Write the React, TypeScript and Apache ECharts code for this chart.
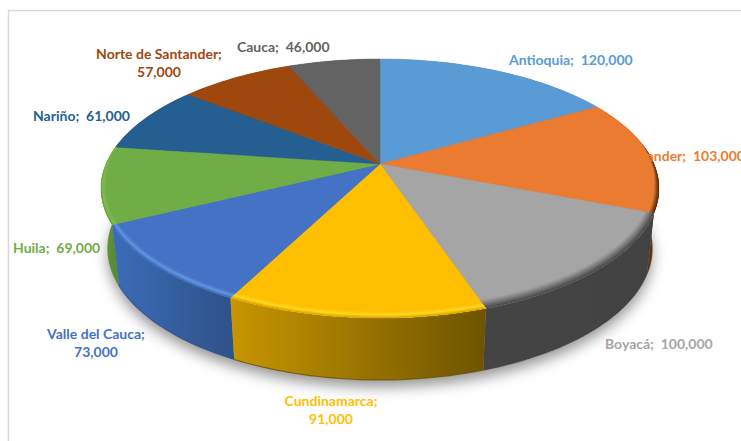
import React, { useEffect, useRef } from "react";
import * as echarts from "echarts";

const DEPARTMENTS = ["Antioquia", "Santander", "Boyacá", "Cundinamarca", "Valle del Cauca", "Huila", "Nariño", "Norte de Santander", "Cauca"];
const VALUES = [120000, 103000, 100000, 91000, 73000, 69000, 61000, 57000, 46000];

const FACE_COLORS = ["#5b9bd5", "#ea7b30", "#a5a5a5", "#fdbf00", "#4472c4", "#70ad47", "#255e91", "#9e480e", "#636363"];
const LABEL_COLORS = ["#5b9bd5", "#ed7d31", "#a5a5a5", "#ffc000", "#4472c4", "#70ad47", "#255e91", "#9e480e", "#636363"];
const WALL_LEFT = ["#3e6f9b", "#8a4a1c", "#444444", "#c79600", "#3b6cb8", "#629c3c", "#1c4a70", "#6e3209", "#444444"];
const WALL_RIGHT = ["#3e6f9b", "#5c2e10", "#424242", "#6e5400", "#2f5289", "#578a34", "#1c4a70", "#6e3209", "#444444"];

// Rim shading per slice, widest band first (fraction of the radius, colour).
const RIMS: [number, string][][] = [
  [],
  [[0.03, "#c96c2b"], [0.024, "#ae5d25"], [0.018, "#8f4d1f"], [0.012, "#70401a"], [0.006, "#553014"]],
  [[0.05, "#9e9e9e"], [0.043, "#929292"], [0.036, "#858585"], [0.029, "#787878"], [0.022, "#6a6a6a"], [0.015, "#5c5c5c"], [0.008, "#4f4f4f"]],
  [[0.034, "#ffc60a"], [0.027, "#ffd01c"], [0.02, "#ffd526"], [0.013, "#f6c008"], [0.007, "#e6b000"], [0.003, "#d6a200"]],
  [[0.034, "#4a7aca"], [0.027, "#5587d6"], [0.02, "#5f95e0"], [0.013, "#5288d6"], [0.007, "#4878c4"], [0.003, "#4069b4"]],
  [[0.03, "#75b24a"], [0.022, "#7ab84e"], [0.014, "#7dbc50"], [0.007, "#6aa540"]],
  [],
  [],
  [],
];

// Angle windows (degrees) over which a rim grows in; null means full width.
const RIM_FADE: ([number, number] | null)[] = [
  null,
  [80, 100],
  null,
  null,
  null,
  [282, 262],
  null,
  null,
  null,
];

const LABEL_ANCHORS: { x: number; y: number; align: string; wrap: boolean }[] = [
  { x: 509, y: 59, align: "left", wrap: false },
  { x: 619, y: 155, align: "left", wrap: false },
  { x: 605, y: 343, align: "left", wrap: false },
  { x: 331, y: 409, align: "center", wrap: true },
  { x: 96, y: 342, align: "center", wrap: true },
  { x: 13, y: 247, align: "left", wrap: false },
  { x: 33, y: 115, align: "left", wrap: false },
  { x: 159, y: 62, align: "center", wrap: true },
  { x: 237, y: 46, align: "left", wrap: false },
];

// Perspective projection of the pie's unit disc onto the page.
const APEX = { x: 380, y: 164 };
const TILT = 0.189;
const SPREAD_X = 274;
const SPREAD_Y = 124.9;
const TOP_CENTER_Y = 188;
const BASE_CENTER_Y = 248;
const BASE_SCALE_X = 0.975;
const BASE_SCALE_Y = 1.015;

type Pt = [number, number];

function project(deg: number, r = 1): Pt {
  const t = (deg * Math.PI) / 180;
  const X = r * Math.sin(t);
  const Y = r * Math.cos(t);
  const w = 1 + TILT * Y;
  return [APEX.x + (SPREAD_X * X) / w, APEX.y - (SPREAD_Y * Y) / w];
}

function projectBase(deg: number): Pt {
  const [x, y] = project(deg);
  return [APEX.x + (x - APEX.x) * BASE_SCALE_X, BASE_CENTER_Y + (y - TOP_CENTER_Y) * BASE_SCALE_Y];
}

const TOTAL = VALUES.reduce((a, b) => a + b, 0);
const START_ANGLES: number[] = [];
VALUES.reduce((acc, v, i) => {
  START_ANGLES[i] = (acc / TOTAL) * 360;
  return acc + v;
}, 0);

function sweep(i: number): [number, number] {
  return [START_ANGLES[i], START_ANGLES[i] + (VALUES[i] / TOTAL) * 360];
}

function arcAngles(a0: number, a1: number): number[] {
  const n = Math.max(2, Math.ceil((a1 - a0) / 1.5));
  const out: number[] = [];
  for (let k = 0; k <= n; k++) out.push(a0 + ((a1 - a0) * k) / n);
  return out;
}

// Back slices first, so nearer walls paint over farther ones.
const WALL_ORDER = VALUES.map((_, i) => i).sort((p, q) => {
  const mid = (i: number) => {
    const [a, b] = sweep(i);
    return Math.cos((((a + b) / 2) * Math.PI) / 180);
  };
  return mid(q) - mid(p);
});

// Rim width along the arc: evens out the wider horizontal spread of the disc.
function rimFactor(i: number, deg: number): number {
  const s = Math.sin((deg * Math.PI) / 180);
  const even = 1 - 0.45 * s * s;
  const fade = RIM_FADE[i];
  if (!fade) return even;
  const f = (deg - fade[0]) / (fade[1] - fade[0]);
  return even * Math.min(1, Math.max(0, f));
}

function renderShadow() {
  const pts = arcAngles(0, 360).map(projectBase);
  return {
    type: "polygon",
    silent: true,
    shape: { points: pts },
    style: { fill: "#8f8f8f", shadowBlur: 14, shadowColor: "rgba(0,0,0,0.42)", shadowOffsetX: 0, shadowOffsetY: 7 },
  };
}

function renderWall(_: any, api: any) {
  const i = api.value(0);
  const [a0, a1] = sweep(i);
  const angles = arcAngles(a0, a1);
  const top = angles.map((d) => project(d));
  const base = angles.map(projectBase);
  const xs = top.map((p) => p[0]);
  return {
    type: "group",
    children: [
      {
        type: "polygon",
        silent: true,
        shape: { points: [...top, ...base.slice().reverse()] },
        style: {
          fill: {
            type: "linear",
            global: true,
            x: Math.min(...xs),
            y: 0,
            x2: Math.max(...xs),
            y2: 0,
            colorStops: [
              { offset: 0, color: WALL_LEFT[i] },
              { offset: 1, color: WALL_RIGHT[i] },
            ],
          },
        },
      },
      {
        type: "polyline",
        silent: true,
        shape: { points: base },
        style: { fill: "none", stroke: WALL_RIGHT[i], lineWidth: 1.2, opacity: 0.8 },
      },
    ],
  };
}

function renderFace(params: any) {
  const i = params.dataIndex;
  const [a0, a1] = sweep(i);
  const angles = arcAngles(a0, a1);
  return {
    type: "polygon",
    silent: true,
    shape: { points: [[APEX.x, APEX.y], ...angles.map((d) => project(d))] },
    style: { fill: FACE_COLORS[i], stroke: FACE_COLORS[i], lineWidth: 0.4 },
  };
}

function renderRim(params: any) {
  const i = params.dataIndex;
  const [a0, a1] = sweep(i);
  const angles = arcAngles(a0, a1);
  const children = RIMS[i].map(([width, color]) => {
    const outer = angles.map((d) => project(d));
    const inner = angles.map((d) => project(d, 1 - width * rimFactor(i, d))).reverse();
    return {
      type: "polygon",
      silent: true,
      shape: { points: [...outer, ...inner] },
      style: { fill: color },
    };
  });
  return { type: "group", children };
}

function formatValue(v: number): string {
  return v.toLocaleString("en-US");
}

function renderLabel(params: any) {
  const i = params.dataIndex;
  const anchor = LABEL_ANCHORS[i];
  const sep = anchor.wrap ? ";\n" : ";\u00a0\u00a0";
  return {
    type: "text",
    silent: true,
    style: {
      text: `${DEPARTMENTS[i]}${sep}${formatValue(VALUES[i])}`,
      x: anchor.x,
      y: anchor.y,
      align: anchor.align,
      verticalAlign: "middle",
      fill: LABEL_COLORS[i],
      fontFamily: "Lato",
      fontWeight: "bold",
      fontSize: 14,
      lineHeight: 18,
    },
  };
}

export default function App() {
  const ref = useRef<HTMLDivElement>(null);

  useEffect(() => {
    document.body.style.margin = "0";
    const chart = echarts.init(ref.current!, undefined, { renderer: "svg" });
    const base = { type: "custom", coordinateSystem: "none", animation: false, silent: true };
    chart.setOption({
      animation: false,
      backgroundColor: "#ffffff",
      graphic: [
        {
          type: "rect",
          silent: true,
          z: 0,
          shape: { x: 8.5, y: 10.5, width: 900, height: 600 },
          style: { fill: "#ffffff", stroke: "#d9d9d9", lineWidth: 1.5 },
        },
      ],
      series: [
        { ...base, z: 2, data: [0], renderItem: renderShadow },
        { ...base, z: 3, data: WALL_ORDER.map((i) => [i, VALUES[i]]), encode: { value: [0, 1] }, renderItem: renderWall },
        { ...base, z: 4, data: VALUES, renderItem: renderFace },
        { ...base, z: 5, data: VALUES, renderItem: renderRim },
        { ...base, z: 6, data: VALUES, renderItem: renderLabel },
      ],
    });
    return () => chart.dispose();
  }, []);

  return <div ref={ref} style={{ width: 741, height: 441, overflow: "hidden" }} />;
}
